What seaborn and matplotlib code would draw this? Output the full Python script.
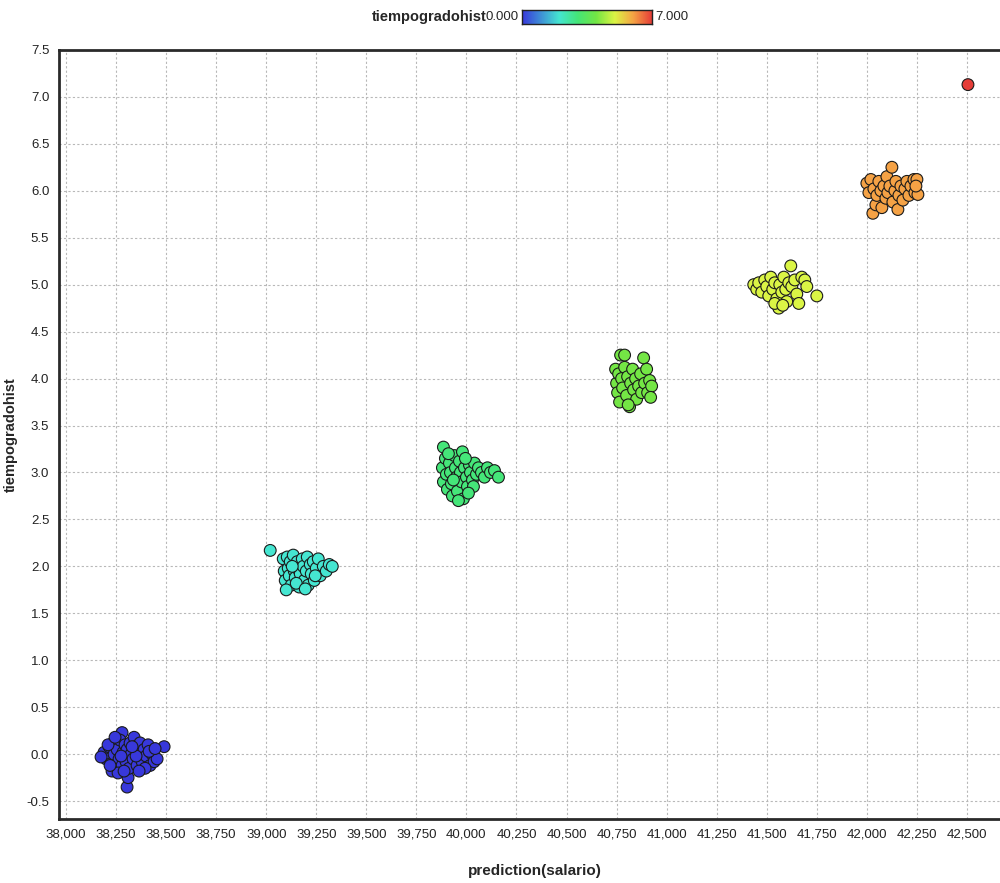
import numpy as np
import pandas as pd
import matplotlib
matplotlib.use("Agg")
import matplotlib.pyplot as plt
from matplotlib.colors import LinearSegmentedColormap
from matplotlib.ticker import FuncFormatter
import seaborn as sns

# --- data: predicted salary vs. years since graduation (jittered display positions) ---
pred_0 = [38280, 38490, 38305, 38310, 38190, 38200, 38215, 38225, 38235, 38240, 38250,
          38255, 38265, 38270, 38280, 38285, 38295, 38300, 38305, 38315, 38320, 38325,
          38335, 38340, 38345, 38355, 38360, 38370, 38380, 38390, 38400, 38410, 38420,
          38430, 38440, 38455, 38230, 38260, 38290, 38175, 38350, 38395, 38210, 38245,
          38275, 38330, 38365, 38415, 38445, 38220]
tiempo_0 = [0.23, 0.08, -0.35, -0.25, 0.02, -0.05, 0.08, -0.10, 0.12, 0.00, -0.15,
            0.05, -0.05, 0.15, -0.12, 0.02, 0.10, -0.08, 0.05, -0.15, 0.12, 0.00,
            -0.05, 0.18, 0.08, -0.12, 0.02, 0.12, -0.08, 0.05, -0.02, 0.10, -0.12,
            0.00, -0.08, -0.05, -0.18, -0.20, -0.18, -0.03, -0.02, -0.15, 0.10, 0.18,
            -0.02, 0.08, -0.18, 0.03, 0.06, -0.12]

pred_2 = [39020, 39085, 39090, 39095, 39105, 39110, 39115, 39120, 39125, 39135, 39140,
          39145, 39155, 39160, 39165, 39170, 39180, 39185, 39190, 39200, 39205, 39210,
          39220, 39225, 39235, 39240, 39250, 39260, 39270, 39285, 39300, 39315, 39100,
          39150, 39330, 39130, 39195, 39245]
tiempo_2 = [2.17, 2.08, 1.95, 1.85, 2.10, 1.98, 1.90, 2.05, 1.80, 2.12, 1.95,
            1.88, 2.05, 1.97, 1.78, 1.92, 2.08, 2.00, 1.85, 1.95, 2.10, 1.80,
            2.02, 1.92, 2.05, 1.85, 1.98, 2.08, 1.90, 2.00, 1.95, 2.02, 1.75,
            1.82, 2.00, 2.00, 1.76, 1.90]

pred_3 = [39885, 39880, 39885, 39895, 39900, 39905, 39915, 39920, 39925, 39930, 39940,
          39945, 39950, 39955, 39965, 39970, 39975, 39980, 39985, 39990, 40000, 40005,
          40015, 40020, 40030, 40040, 40050, 40060, 40075, 40090, 40105, 40120, 40140,
          40160, 39960, 39935, 39910, 39995, 40035, 40010]
tiempo_3 = [3.27, 3.05, 2.90, 3.15, 2.98, 2.82, 3.10, 3.00, 2.88, 2.75, 3.18,
            3.05, 2.95, 2.80, 3.12, 3.00, 2.90, 3.22, 2.72, 3.05, 2.95, 2.85,
            3.08, 3.00, 2.92, 3.10, 2.98, 3.05, 3.00, 2.95, 3.05, 3.00, 3.02,
            2.95, 2.70, 2.92, 3.20, 3.15, 2.85, 2.78]

pred_4 = [40770, 40790, 40745, 40750, 40755, 40760, 40765, 40775, 40780, 40790, 40800,
          40805, 40815, 40820, 40830, 40835, 40845, 40850, 40860, 40870, 40875, 40885,
          40890, 40900, 40905, 40915, 40925, 40920, 40808]
tiempo_4 = [4.25, 4.25, 4.10, 3.95, 3.85, 4.05, 3.75, 4.00, 3.90, 4.12, 3.82,
            4.02, 3.70, 3.95, 4.10, 3.88, 4.00, 3.78, 3.92, 4.05, 3.85, 4.22,
            3.95, 4.10, 3.85, 3.98, 3.92, 3.80, 3.72]

pred_5 = [41435, 41450, 41460, 41475, 41490, 41500, 41510, 41520, 41530, 41540, 41550,
          41560, 41565, 41575, 41585, 41595, 41600, 41610, 41620, 41625, 41640, 41650,
          41660, 41675, 41690, 41700, 41750, 41540, 41580]
tiempo_5 = [5.00, 4.95, 5.02, 4.92, 5.05, 4.98, 4.88, 5.08, 4.95, 5.02, 4.85,
            4.75, 5.00, 4.92, 5.08, 4.95, 4.82, 5.02, 5.20, 4.98, 5.05, 4.90,
            4.80, 5.08, 5.05, 4.98, 4.88, 4.80, 4.78]

pred_6 = [42000, 42010, 42020, 42030, 42035, 42045, 42050, 42060, 42070, 42075, 42085,
          42095, 42100, 42105, 42115, 42125, 42130, 42140, 42145, 42155, 42160, 42170,
          42180, 42190, 42200, 42210, 42220, 42235, 42240, 42250, 42255, 42245]
tiempo_6 = [6.08, 5.98, 6.12, 5.76, 6.02, 5.85, 5.95, 6.10, 6.00, 5.82, 6.05,
            5.92, 6.15, 5.98, 6.05, 6.25, 5.88, 6.00, 6.10, 5.80, 5.95, 6.05,
            5.90, 6.02, 6.10, 5.95, 6.05, 6.12, 5.98, 6.12, 5.96, 6.05]

pred_7 = [42505]
tiempo_7 = [7.13]

groups = [(0, pred_0, tiempo_0), (2, pred_2, tiempo_2), (3, pred_3, tiempo_3),
          (4, pred_4, tiempo_4), (5, pred_5, tiempo_5), (6, pred_6, tiempo_6),
          (7, pred_7, tiempo_7)]

df = pd.concat([
    pd.DataFrame({"prediction(salario)": p, "tiempo_plot": t, "tiempogradohist": g})
    for g, p, t in groups
], ignore_index=True)

x_ticks = list(range(38000, 42501, 250))
y_ticks = [v / 2 for v in range(-1, 16)]

# --- style ---
sns.set_style("white")
plt.rcParams["font.family"] = ["Liberation Sans Narrow", "Liberation Sans", "DejaVu Sans"]

cmap = LinearSegmentedColormap.from_list("tg", [
    (0.0, (0.22, 0.22, 0.86)),
    (2 / 7, (0.27, 0.90, 0.82)),
    (3 / 7, (0.27, 0.90, 0.47)),
    (4 / 7, (0.45, 0.90, 0.27)),
    (5 / 7, (0.86, 0.96, 0.27)),
    (6 / 7, (0.96, 0.64, 0.27)),
    (1.0, (0.90, 0.24, 0.22)),
])

fig = plt.figure(figsize=(10, 8.83), dpi=100)
ax = fig.add_axes([0.059, 0.0725, 0.941, 0.871])

ax.set_xlim(37965, 42665)
ax.set_ylim(-0.69, 7.5)
ax.set_xticks(x_ticks)
ax.set_yticks(y_ticks)
ax.xaxis.set_major_formatter(FuncFormatter(lambda v, _: f"{int(round(v)):,}"))
ax.yaxis.set_major_formatter(FuncFormatter(lambda v, _: f"{v:.1f}"))
ax.grid(True, color="#b8b8b8", linestyle=(0, (2, 2)), linewidth=0.8)
ax.set_axisbelow(True)

sns.scatterplot(data=df, x="prediction(salario)", y="tiempo_plot", hue="tiempogradohist",
                palette=cmap, hue_norm=(0, 7), s=72, edgecolor="#1a1a1a",
                linewidth=0.8, legend=False, ax=ax, zorder=3)

for side in ["left", "top", "bottom"]:
    ax.spines[side].set_color("#2a2a2a")
    ax.spines[side].set_linewidth(2)
ax.spines["right"].set_visible(False)

ax.tick_params(axis="both", direction="out", length=4, width=0.8, color="#777777",
               labelsize=9.5, labelcolor="#222222", pad=3)
ax.set_xlabel("prediction(salario)", fontsize=11, fontweight="bold")
ax.xaxis.set_label_coords((535 - 59) / 941, -(864 - 819) / 769)
ax.set_ylabel("tiempogradohist", fontsize=10.5, fontweight="bold",
              family=["Liberation Sans", "DejaVu Sans"])
ax.yaxis.set_label_coords(-(59 - 18) / 941, (819 - 435) / 769)

# --- colour legend at the top ---
W, H = 1000, 883
cax = fig.add_axes([522 / W, 1 - 24 / H, 130 / W, 14 / H])
cax.imshow(np.linspace(0, 1, 256)[None, :], aspect="auto", cmap=cmap, extent=(0, 1, 0, 1))
cax.set_xticks([])
cax.set_yticks([])
for s in cax.spines.values():
    s.set_color("#222222")
    s.set_linewidth(1)
fig.text(487 / W, 1 - 17 / H, "tiempogradohist", fontsize=10.5, fontweight="bold",
         ha="right", va="center")
fig.text(519 / W, 1 - 17 / H, "0.000", fontsize=9.5, ha="right", va="center")
fig.text(655 / W, 1 - 17 / H, "7.000", fontsize=9.5, ha="left", va="center")

fig.savefig("out.png", dpi=100, facecolor="white")
